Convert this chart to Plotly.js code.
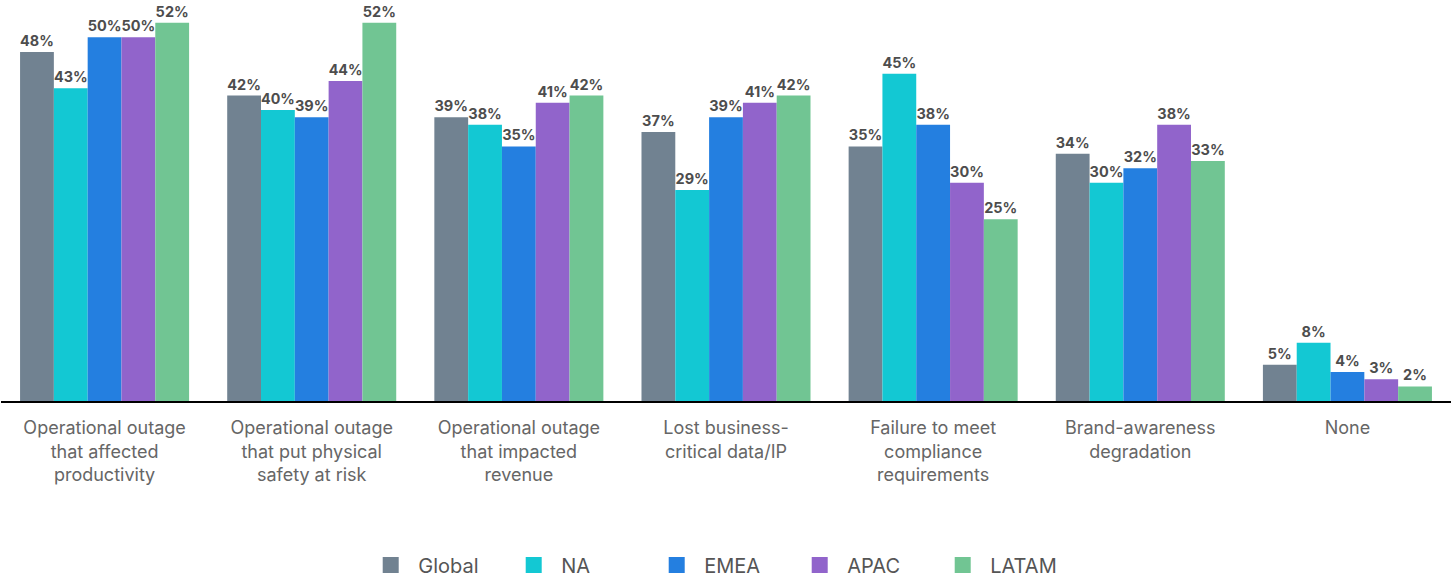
<!DOCTYPE html>
<html>
<head>
<meta charset="utf-8">
<script src="https://cdn.plot.ly/plotly-3.0.1.min.js"></script>
<style>
  html, body { margin: 0; padding: 0; background: #fff; }
  #chart { width: 1452px; height: 581px; }
</style>
</head>
<body>
<div id="chart"></div>
<script>
const categories = [
  "Operational outage<br>that affected<br>productivity",
  "Operational outage<br>that put physical<br>safety at risk",
  "Operational outage<br>that impacted<br>revenue",
  "Lost business-<br>critical data/IP",
  "Failure to meet<br>compliance<br>requirements",
  "Brand-awareness<br>degradation",
  "None"
];
const seriesNames = ["Global", "NA", "EMEA", "APAC", "LATAM"];
const globalValues = [48, 42, 39, 37, 35, 34, 5];
const naValues     = [43, 40, 38, 29, 45, 30, 8];
const emeaValues   = [50, 39, 35, 39, 38, 32, 4];
const apacValues   = [50, 44, 41, 41, 30, 38, 3];
const latamValues  = [52, 52, 42, 42, 25, 33, 2];

const colors = ["#718291", "#13c8d3", "#247fe0", "#9164cb", "#71c593"];
const allValues = [globalValues, naValues, emeaValues, apacValues, latamValues];

const traces = [];
allValues.forEach((vals, i) => {
  traces.push({
    type: "bar",
    name: seriesNames[i],
    x: categories,
    y: vals,
    marker: { color: colors[i] },
    texttemplate: "%{y}%",
    textposition: "outside",
    cliponaxis: false,
    textfont: { family: "Inter, 'Noto Sans', sans-serif", size: 14.5, color: "#4d4d4d", weight: 700 },
    showlegend: false,
    hoverinfo: "x+y"
  });
});
allValues.forEach((vals, i) => {
  traces.push({
    type: "scatter",
    mode: "markers",
    name: seriesNames[i],
    x: [null],
    y: [null],
    marker: { color: colors[i], symbol: "square", size: 16 },
    showlegend: true,
    hoverinfo: "skip"
  });
});

const layout = {
  width: 1452,
  height: 581,
  margin: { l: 1, r: 1, t: 1, b: 180, autoexpand: false },
  paper_bgcolor: "#ffffff",
  plot_bgcolor: "#ffffff",
  barmode: "group",
  bargap: 0.184,
  bargroupgap: 0,
  font: { family: "Inter, 'Noto Sans', sans-serif", color: "#666666" },
  xaxis: {
    type: "category",
    showline: true,
    linecolor: "#000000",
    linewidth: 1.5,
    ticks: "",
    showgrid: false,
    zeroline: false,
    automargin: false,
    tickfont: { size: 18, color: "#666666" },
    ticklabelstandoff: 10,
    fixedrange: true
  },
  yaxis: {
    range: [0, 55],
    visible: false,
    showgrid: false,
    zeroline: false,
    fixedrange: true
  },
  legend: {
    orientation: "h",
    x: 0.2498,
    xanchor: "left",
    y: -0.41,
    yanchor: "middle",
    itemwidth: 45,
    entrywidth: 83,
    entrywidthmode: "pixels",
    font: { size: 20, color: "#555555" },
    bgcolor: "rgba(0,0,0,0)",
    itemclick: false,
    itemdoubleclick: false
  },
  showlegend: true
};

Plotly.newPlot("chart", traces, layout, { displayModeBar: false });
</script>
</body>
</html>
